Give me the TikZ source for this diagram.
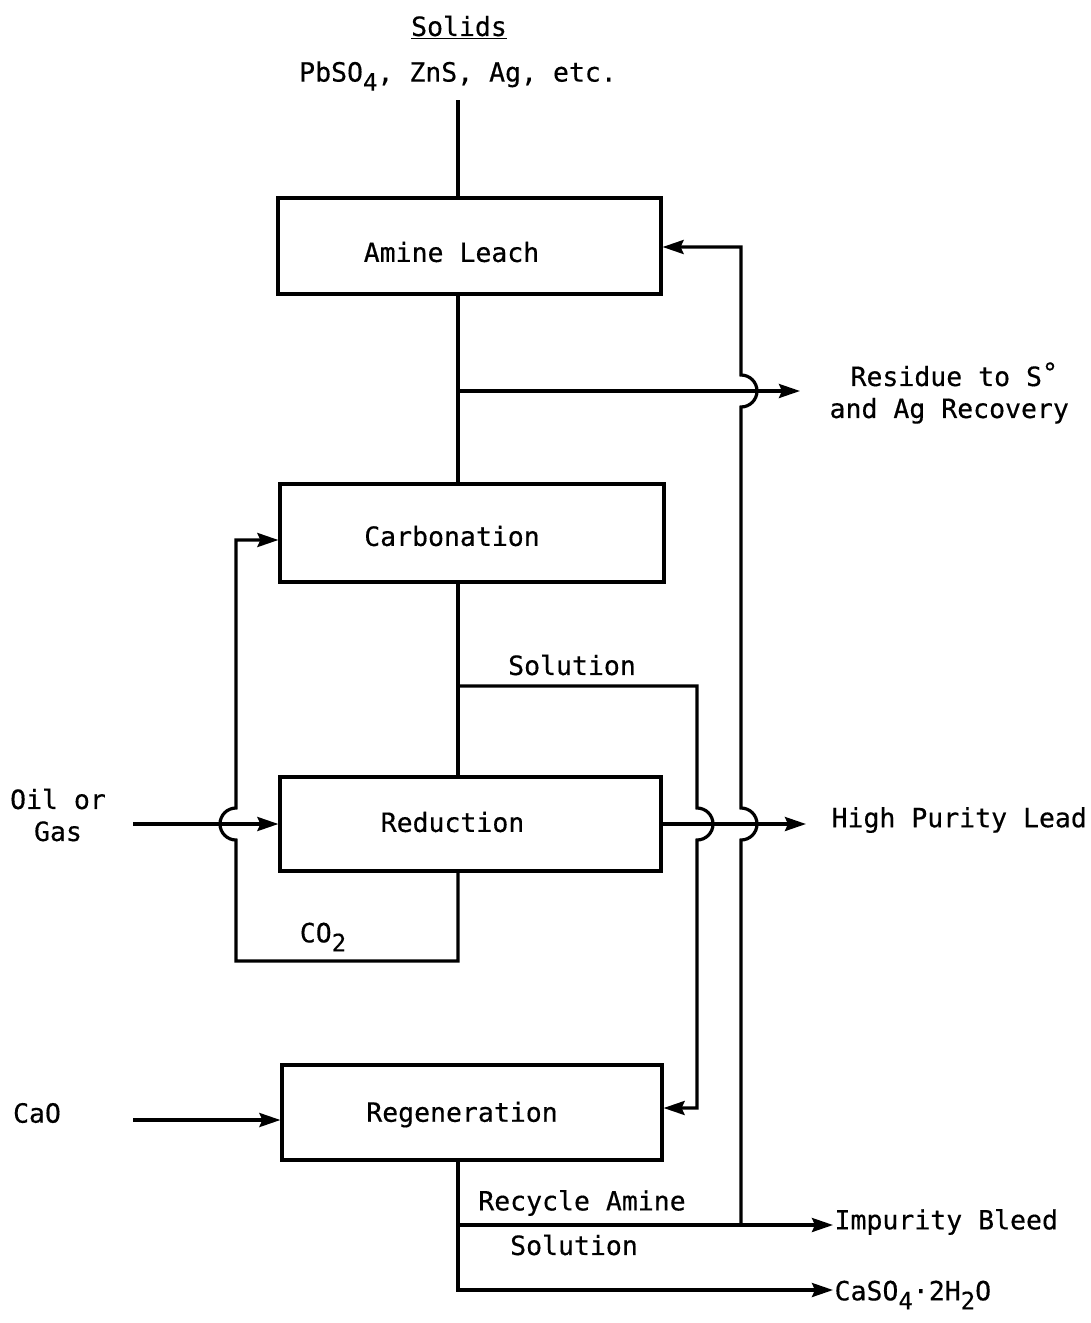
\documentclass[tikz,border=0pt]{standalone}
\usepackage{fontspec}
\setmainfont[FakeBold=0.4]{DejaVu Sans Mono}
\usetikzlibrary{arrows.meta}
\newcommand\lowsub[1]{\raisebox{-9pt}{\fontsize{24}{24}\selectfont #1}}
\begin{document}
\begin{tikzpicture}[x=1pt,y=-1pt,
  line width=3.2pt,
  >={Stealth[length=21pt,width=14pt,inset=3pt]},
  lbl/.style={font=\fontsize{26.5}{32}\selectfont, inner sep=0pt, align=center},
  proc/.style={draw, rectangle, line width=3.2pt, inner sep=0pt}]
\useasboundingbox (0,0) rectangle (1091,1323);

% process boxes
\node[proc, minimum width=383pt, minimum height=96pt,
      label={[lbl,xshift=-18pt,yshift=-6pt]center:Amine Leach}] (leach) at (469.5,246) {};
\node[proc, minimum width=384pt, minimum height=98pt,
      label={[lbl,xshift=-20pt,yshift=-3pt]center:Carbonation}] (carb) at (472,533) {};
\node[proc, minimum width=381pt, minimum height=94pt,
      label={[lbl,xshift=-18pt,yshift=2pt]center:Reduction}] (red) at (470.5,824) {};
\node[proc, minimum width=380pt, minimum height=95pt,
      label={[lbl,xshift=-10pt,yshift=-2pt]center:Regeneration}] (regen) at (472,1112.5) {};

% texts
\node[lbl] (solids) at (459,27) {\underline{Solids}};
\node[lbl] (feed) at (458,76) {PbSO\lowsub{4}, ZnS, Ag, etc.};
\node[lbl, anchor=west] (res) at (828,393) {\hspace*{10pt}Residue to S\raisebox{4pt}{°}\\and Ag Recovery};
\node[lbl, anchor=west] (hpl) at (830,820) {High Purity Lead};
\node[lbl] (oil) at (58,815) {Oil or\\Gas};
\node[lbl] (cao) at (37,1113) {CaO};
\node[lbl] (soln) at (572,665) {Solution};
\node[lbl] (co2) at (323,937) {CO\lowsub{2}};
\node[lbl] (recyc) at (582,1203) {Recycle Amine};
\node[lbl] (soln2) at (574,1245) {Solution};
\node[lbl, anchor=west] (bleed) at (833,1222) {Impurity Bleed};
\node[lbl, anchor=west] (gyp) at (833,1295) {CaSO\lowsub{4}·2H\lowsub{2}O};

% reference coordinates
\coordinate (main) at (458,0);
\coordinate (src) at (458,100);
\coordinate (resend) at (800,391);
\coordinate (hplend) at (806,824);
\coordinate (oilstart) at (133,824);
\coordinate (caostart) at (133,1120);
\coordinate (bleedend) at (833,1225);
\coordinate (gypend) at (833,1290);

% main flow
\draw (src) -- (main |- leach.north);
\draw (main |- leach.south) -- (main |- carb.north);
\draw (main |- carb.south) -- (main |- red.north);
\draw[->] (main |- 0,391) -- (resend);
\draw[->] (red.east) -- (hplend);

% solution to regeneration
\draw[->] (main |- 0,686) -- (697,686) -- (697,808)
  arc[start angle=90, end angle=-90, radius=16pt] -- (697,1108) -- (regen.east |- 0,1108);

% CO2 recycle
\draw[->] (main |- red.south) -- (458,961) -- (236,961) -- (236,840)
  arc[start angle=270, end angle=90, radius=16pt] -- (236,540) -- (carb.west |- 0,540);

% feeds
\draw[->] (oilstart) -- (red.west);
\draw[->] (caostart) -- (regen.west |- caostart);

% regeneration outputs
\draw[->] (main |- regen.south) -- (main |- gypend) -- (gypend);
\draw[->] (main |- bleedend) -- (bleedend);

% recycle amine solution
\draw[->] (741,1225) -- (741,840)
  arc[start angle=-90, end angle=90, radius=16pt] -- (741,407)
  arc[start angle=-90, end angle=90, radius=16pt] -- (741,247) -- (leach.east |- 0,247);
\end{tikzpicture}
\end{document}
